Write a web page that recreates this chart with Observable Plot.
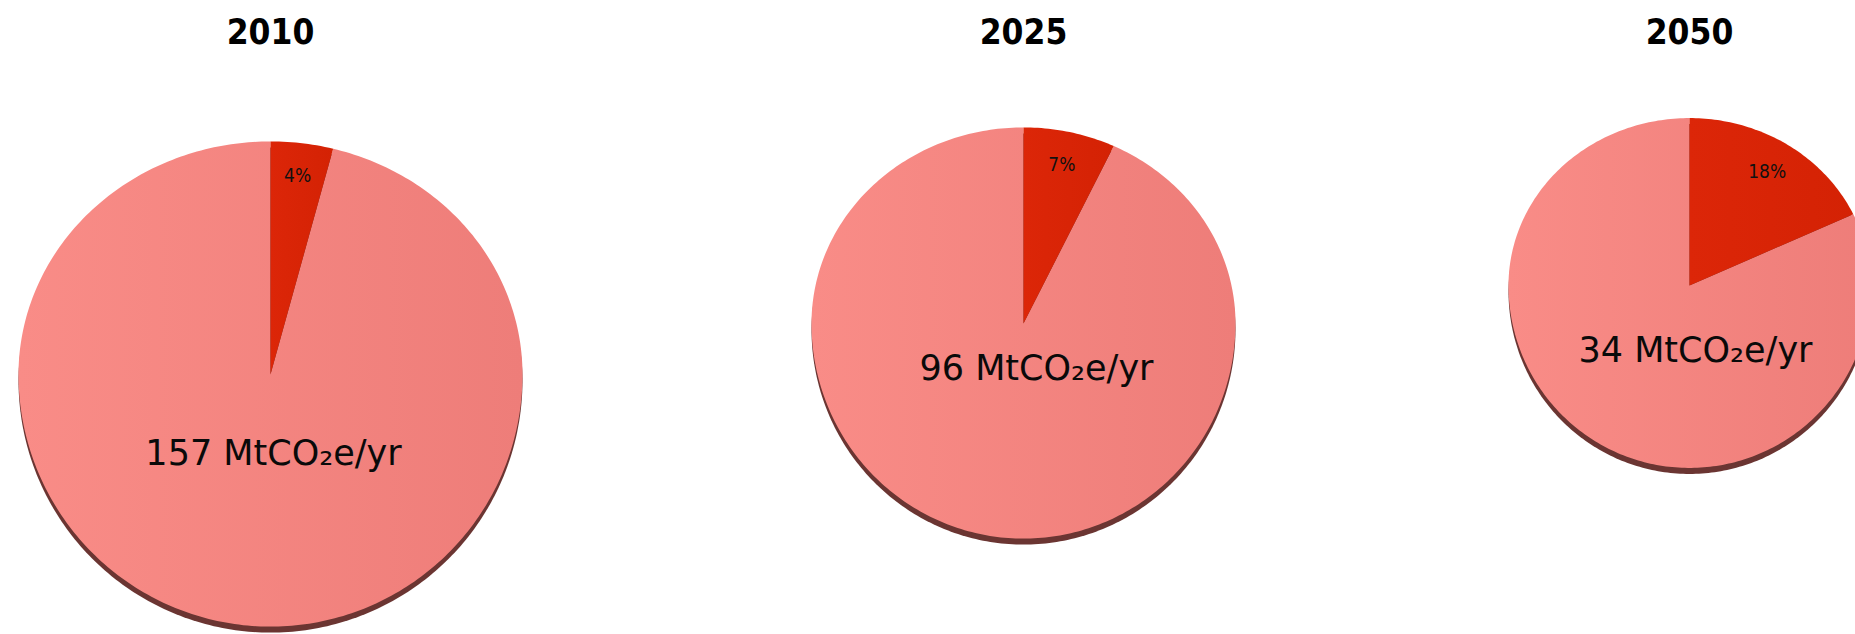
<!DOCTYPE html>
<html><head><meta charset="utf-8">
<script src="https://cdn.jsdelivr.net/npm/d3@7"></script>
<script src="https://cdn.jsdelivr.net/npm/@observablehq/plot@0.6"></script>
<style>html,body{margin:0;padding:0;background:#fff;overflow:hidden}</style>
</head><body><div id="chart"></div>
<script>
// ---- data ----
const years = ["2010", "2025", "2050"];
const totals = [157, 96, 34];          // MtCO2e/yr
const redShare = [4, 7, 18];           // % share of the small (red) slice
const unit = "MtCO₂e/yr";

// ---- layout (not data) ----
const W = 1855, H = 634;
const pieCx = [270, 1023, 1689];
const pieCy = [374, 323, 285];
const pieRx = [252, 212, 181];
const tilt = 0.925;
const depth = [19, 19, 15];
const labelDx = [3, 13, 6];
const labelDy = [79, 45, 65];
const titleY = 32;

const rad = d => d * Math.PI / 180;
// silhouette: upper half uses ry, lower half ry + depth (smooth at the sides)
function pts(i, a0, a1, id, dy = 0, center = true) {
  const cx = pieCx[i], cy = pieCy[i] + dy, rx = pieRx[i], ry = rx * tilt;
  const out = [];
  if (center) out.push({id, x: cx, y: cy});
  const n = Math.max(2, Math.ceil(a1 - a0));
  for (let k = 0; k <= n; k++) {
    const a = rad(a0 + (a1 - a0) * k / n);
    const c = Math.cos(a);
    const r = c >= 0 ? ry : ry + depth[i];
    out.push({id, x: cx + rx * Math.sin(a), y: cy - r * c});
  }
  return out;
}

const shadow = [], red = [], pink = [], pctLabels = [], totLabels = [], titles = [];
years.forEach((yr, i) => {
  const a = redShare[i] * 3.6;
  shadow.push(...pts(i, 0, 360, "s" + i, 6, false));
  red.push(...pts(i, 0, a, "r" + i));
  pink.push(...pts(i, a, 360, "p" + i));
  const f = 1 - 36 / pieRx[i], m = rad(a / 2);
  pctLabels.push({x: pieCx[i] + pieRx[i] * f * Math.sin(m), y: pieCy[i] - pieRx[i] * tilt * f * Math.cos(m), text: redShare[i] + "%"});
  totLabels.push({x: pieCx[i] + labelDx[i], y: pieCy[i] + labelDy[i], text: totals[i] + " " + unit});
  titles.push({x: pieCx[i], y: titleY, text: yr});
});

const poly = (data, fill, extra = {}) => Plot.line(data, {x: "x", y: "y", z: "id", fill, stroke: "none", curve: "linear-closed", ...extra});

const svg = Plot.plot({
  width: W, height: H,
  margin: 0,
  x: {type: "linear", domain: [0, W], range: [0, W], axis: null},
  y: {type: "linear", domain: [0, H], range: [0, H], axis: null},
  style: {background: "white"},
  marks: [
    poly(shadow, "#6b3532"),
    poly(pink, "url(#pinkGrad)"),
    poly(red, "url(#redGrad)"),
    Plot.text(pctLabels, {x: "x", y: "y", text: "text", fontSize: 19, fontFamily: "DejaVu Sans Condensed, DejaVu Sans, sans-serif", fill: "#111"}),
    Plot.text(totLabels, {x: "x", y: "y", text: "text", fontSize: 35, fontFamily: "DejaVu Sans, sans-serif", fill: "#0a0a0a"}),
    Plot.text(titles, {x: "x", y: "y", text: "text", fontSize: 35, fontWeight: "bold", fontFamily: "DejaVu Sans Condensed, DejaVu Sans, sans-serif", fill: "#000"})
  ]
});

const defs = d3.select(svg).insert("defs", ":first-child");
const g1 = defs.append("linearGradient").attr("id", "pinkGrad").attr("x1", 0).attr("x2", 1).attr("y1", 0).attr("y2", 0);
g1.append("stop").attr("offset", "0%").attr("stop-color", "#f98c87");
g1.append("stop").attr("offset", "100%").attr("stop-color", "#ee7d79");
const g2 = defs.append("linearGradient").attr("id", "redGrad").attr("x1", 0).attr("x2", 1).attr("y1", 0).attr("y2", 0);
g2.append("stop").attr("offset", "0%").attr("stop-color", "#dc2608");
g2.append("stop").attr("offset", "100%").attr("stop-color", "#d42204");

document.getElementById("chart").appendChild(svg);
</script>
</body></html>
